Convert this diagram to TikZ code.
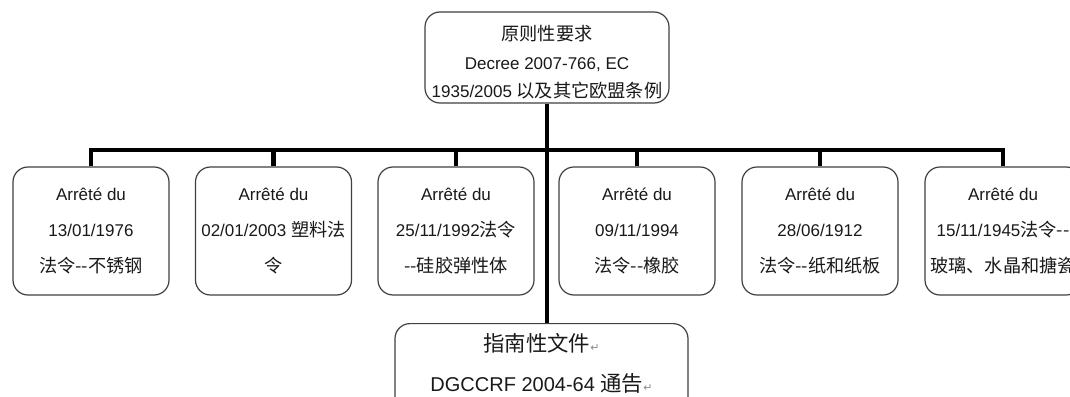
\documentclass[tikz,border=0pt]{standalone}
\usepackage{fontspec}
\setmainfont{Liberation Sans}
\newfontfamily\cjk[Scale=1.07]{Noto Sans CJK SC}
\newfontfamily\symfont{DejaVu Sans}
\newcommand{\pmark}{{\symfont\color{black!45}\fontsize{11}{11}\selectfont ↵}}
\tikzset{
  box/.style={draw=black!75, line width=1.2pt, rounded corners=15pt, fill=white,
    inner sep=0pt, align=center, text=black!90},
  lawbox/.style={box, minimum width=156pt, minimum height=128pt,
    font=\fontsize{17}{36}\selectfont},
  txt/.style={inner sep=0pt, align=center, text=black!90},
  conn/.style={line width=4.5pt, draw=black}
}
\begin{document}
\begin{tikzpicture}[x=1pt,y=-1pt]
\useasboundingbox (0,0) rectangle (1070,396);
\clip (0,0) rectangle (1070,396);
\fill[white] (0,0) rectangle (1070,396);

\coordinate (bar) at (547,150);

\node[box, minimum width=244pt, minimum height=91pt] (top) at (547,57.5) {};
\node[txt, font=\fontsize{17}{28.5}\selectfont] (toptext) at (547,62.5)
  {{\cjk 原则性要求}\\Decree 2007-766, EC\\1935/2005 {\cjk 以及其它欧盟条例}};

\node[lawbox] (a1) at (91,231) {Arrêté du\\13/01/1976\\{\cjk 法令--不锈钢}};
\node[lawbox] (a2) at (273.5,231) {Arrêté du\\02/01/2003 {\cjk 塑料法}\\{\cjk 令}};
\node[lawbox] (a3) at (456,231) {Arrêté du\\25/11/1992{\cjk 法令}\\{\cjk --硅胶弹性体}};
\node[lawbox] (a4) at (637,231) {Arrêté du\\09/11/1994\\{\cjk 法令--橡胶}};
\node[lawbox] (a5) at (820,231) {Arrêté du\\28/06/1912\\{\cjk 法令--纸和纸板}};
\node[lawbox] (a6) at (1003,231) {Arrêté du\\15/11/1945{\cjk 法令--}\\{\cjk 玻璃、水晶和搪瓷}};

\node[box, minimum width=293pt, minimum height=100pt, anchor=north] (guide) at (541.5,323) {};
\node[txt, font=\fontsize{20}{40}\selectfont] (guidetext) at (541.5,363)
  {{\cjk 指南性文件}\pmark\\DGCCRF 2004-64 {\cjk 通告}\pmark};

\draw[conn] (top.south) -- (top.south |- guide.north);
\draw[conn] (a1.north) -- (a1.north |- bar) -- (a6.north |- bar) -- (a6.north);
\foreach \n in {a2,a3,a4,a5}{
  \draw[conn] (\n.north) -- (\n.north |- bar);
}
\end{tikzpicture}
\end{document}
